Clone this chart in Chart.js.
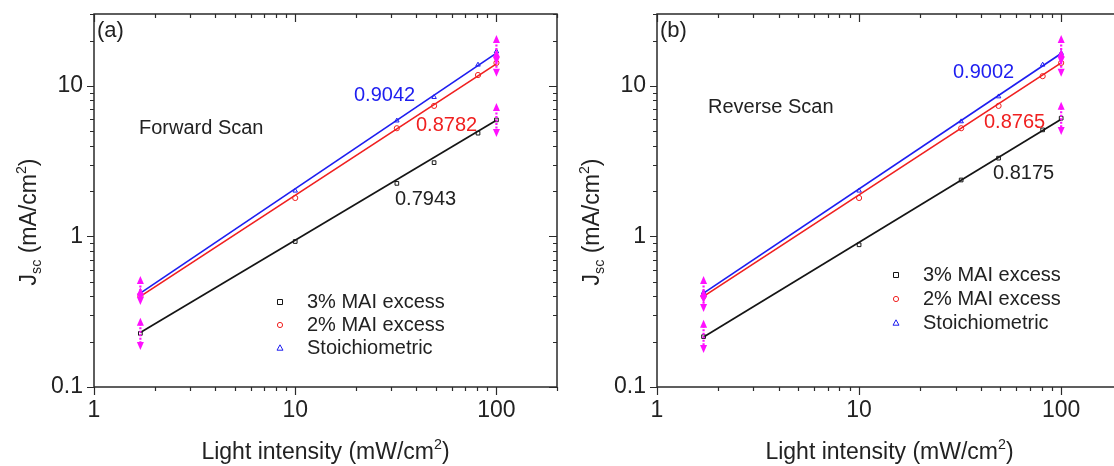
<!DOCTYPE html>
<html><head><meta charset="utf-8">
<script src="https://cdn.jsdelivr.net/npm/chart.js@4/dist/chart.umd.min.js"></script>
<style>
html,body{margin:0;padding:0;background:#fff;overflow:hidden;width:1114px;height:466px;}
#cA{position:absolute;left:0;top:0;}
#cB{position:absolute;left:557px;top:0;}
</style></head><body>
<canvas id="cA" width="562" height="466"></canvas>
<canvas id="cB" width="600" height="466"></canvas>
<script>
// ---- data ----
const intensity = [1.7, 10, 32, 49, 81, 100];
const seriesNames = ['3% MAI excess', '2% MAI excess', 'Stoichiometric'];
const xTickValues = [1, 10, 100];
const yTickValues = [0.1, 1, 10];

// forward scan (a)
const fwd3 = [0.227, 0.925, 2.25, 3.09, 4.85, 5.94];
const fwd2 = [0.40, 1.80, 5.23, 7.36, 11.8, 14.2];
const fwdS = [0.42, 2.01, 5.87, 8.41, 13.8, 16.9];
// reverse scan (b)
const rev3 = [0.216, 0.88, 2.37, 3.31, 5.10, 6.10];
const rev2 = [0.40, 1.80, 5.23, 7.36, 11.6, 14.2];
const revS = [0.424, 2.01, 5.80, 8.49, 13.8, 16.5];

// fitted lines (end points)
const fitX = [1.7, 100];
const fwdFit3 = [0.23, 5.9];
const fwdFit2 = [0.40, 14.0];
const fwdFitS = [0.42, 16.5];
const revFit3 = [0.215, 6.0];
const revFit2 = [0.40, 14.2];
const revFitS = [0.42, 16.4];

// slopes
const fwdSlopes = ['0.7943', '0.8782', '0.9042'];
const revSlopes = ['0.8175', '0.8765', '0.9002'];

// error bars [low, high] at errX
const errX = [1.7, 100];
const fwdErr3 = [[0.176, 0.288], [4.58, 7.7]];
const fwdErr2 = [[0.35, 0.46], [11.5, 17.5]];
const fwdErrS = [[0.37, 0.547], [13.8, 21.8]];
const revErr3 = [[0.168, 0.28], [4.72, 7.83]];
const revErr2 = [[0.315, 0.45], [11.5, 17.5]];
const revErrS = [[0.36, 0.545], [13.8, 21.8]];

// ---- styling ----
const FONT = 'Arial, "Liberation Sans", sans-serif';
const BLACK = '#151515';
const RED = '#f02020';
const BLUE = '#1e1ef0';
const MAG = '#ff10ff';
const TXT = '#222';

function richWidth(ctx, segs, size) {
  let w = 0;
  for (const s of segs) {
    const fs = (s.sub || s.sup) ? size * 0.62 : size;
    ctx.font = fs + 'px ' + FONT;
    w += ctx.measureText(s.t).width;
  }
  return w;
}
function drawRich(ctx, segs, x, y, size) { // x = left, y = baseline
  let cx = x;
  for (const s of segs) {
    const fs = (s.sub || s.sup) ? size * 0.62 : size;
    ctx.font = fs + 'px ' + FONT;
    const dy = s.sub ? size * 0.22 : (s.sup ? -size * 0.42 : 0);
    ctx.fillText(s.t, cx, y + dy);
    cx += ctx.measureText(s.t).width;
  }
}

function marker(ctx, style, x, y, color) {
  ctx.save();
  ctx.strokeStyle = color; ctx.lineWidth = 1;
  ctx.beginPath();
  if (style === 'rect') ctx.rect(x - 2.5, y - 2.5, 5, 5);
  else if (style === 'circle') ctx.arc(x, y, 2.6, 0, Math.PI * 2);
  else { ctx.moveTo(x, y - 3.2); ctx.lineTo(x + 3, y + 2.2); ctx.lineTo(x - 3, y + 2.2); ctx.closePath(); }
  ctx.stroke();
  ctx.restore();
}

function makePanel(id, d) {
  const el = document.getElementById(id);
  const styles = ['rect', 'circle', 'triangle'];
  const colors = [BLACK, RED, BLUE];

  const panelPlugin = {
    id: 'panel_' + id,
    afterDatasetsDraw(chart) {
      const ctx = chart.ctx, xs = chart.scales.x, ys = chart.scales.y;
      // error bars
      ctx.save();
      ctx.strokeStyle = MAG; ctx.fillStyle = MAG; ctx.lineWidth = 2.2;
      for (const err of d.err) {
        err.forEach((lh, i) => {
          const px = xs.getPixelForValue(errX[i]);
          const y1 = ys.getPixelForValue(lh[1]), y0 = ys.getPixelForValue(lh[0]);
          ctx.setLineDash([2, 1.5]);
          ctx.beginPath(); ctx.moveTo(px, y1 + 6); ctx.lineTo(px, y0 - 6); ctx.stroke();
          ctx.setLineDash([]);
          ctx.beginPath(); ctx.moveTo(px, y1); ctx.lineTo(px + 3.5, y1 + 8); ctx.lineTo(px - 3.5, y1 + 8); ctx.closePath(); ctx.fill();
          ctx.beginPath(); ctx.moveTo(px, y0); ctx.lineTo(px + 3.5, y0 - 8); ctx.lineTo(px - 3.5, y0 - 8); ctx.closePath(); ctx.fill();
        });
      }
      ctx.restore();
    },
    afterDraw(chart) {
      const ctx = chart.ctx, a = chart.chartArea, xs = chart.scales.x, ys = chart.scales.y;
      ctx.save();
      // frame
      ctx.strokeStyle = '#2a2a2a'; ctx.lineWidth = 1.5;
      ctx.strokeRect(a.left, a.top, a.right - a.left, a.bottom - a.top);
      // ticks
      ctx.lineWidth = 1.2;
      const xMin = xs.min, xMax = xs.max, yMin = ys.min, yMax = ys.max;
      ctx.beginPath();
      for (let dec = 1; dec <= 100; dec *= 10) {
        for (let k = 1; k <= 9; k++) {
          const v = dec * k;
          if (v < xMin || v > xMax) continue;
          const p = Math.round(xs.getPixelForValue(v)) + 0.5;
          const major = k === 1;
          ctx.moveTo(p, a.bottom); ctx.lineTo(p, a.bottom + (major ? 8 : 4));
          ctx.moveTo(p, a.top); ctx.lineTo(p, a.top + (major ? 8 : 4));
        }
      }
      for (let dec = 0.1; dec <= 10.001; dec *= 10) {
        for (let k = 1; k <= 9; k++) {
          const v = dec * k;
          if (v < yMin * 0.999 || v > yMax * 1.001) continue;
          const p = Math.round(ys.getPixelForValue(v)) + 0.5;
          const major = k === 1;
          ctx.moveTo(a.left, p); ctx.lineTo(a.left - (major ? 7 : 4), p);
          ctx.moveTo(a.right, p); ctx.lineTo(a.right - (major ? 8 : 4), p);
        }
      }
      ctx.stroke();

      // panel letter and scan label
      ctx.fillStyle = TXT; ctx.textBaseline = 'middle'; ctx.textAlign = 'left';
      ctx.font = '22px ' + FONT;
      ctx.fillText(d.letter, a.left + 3, a.top + 17);
      ctx.font = '20px ' + FONT;
      ctx.fillText(d.scan, a.left + d.scanPos[0], d.scanPos[1]);
      // slope labels
      d.slopes.forEach((s, i) => {
        ctx.fillStyle = i === 0 ? TXT : colors[i];
        ctx.fillText(s, a.left + d.slopePos[i][0], d.slopePos[i][1]);
      });
      // legend
      seriesNames.forEach((n, i) => {
        const y = d.legendY + i * d.legendGap;
        marker(ctx, styles[i], a.left + d.legendX, y, colors[i]);
        ctx.fillStyle = TXT; ctx.font = '20px ' + FONT;
        ctx.fillText(n, a.left + d.legendX + 27, y);
      });
      // axis titles
      ctx.fillStyle = TXT; ctx.textBaseline = 'alphabetic'; ctx.textAlign = 'left';
      const xt = [{t: 'Light intensity (mW/cm'}, {t: '2', sup: true}, {t: ')'}];
      const xw = richWidth(ctx, xt, 23);
      drawRich(ctx, xt, (a.left + a.right) / 2 - xw / 2, 459, 23);
      const yt = [{t: 'J'}, {t: 'sc', sub: true}, {t: ' (mA/cm'}, {t: '2', sup: true}, {t: ')'}];
      const yw = richWidth(ctx, yt, 23);
      ctx.translate(a.left - 58, 222);
      ctx.rotate(-Math.PI / 2);
      drawRich(ctx, yt, -yw / 2, 0, 23);
      ctx.restore();
    }
  };

  const fitSets = [
    {data: d.fitS, color: BLUE}, {data: d.fit2, color: RED}, {data: d.fit3, color: BLACK}
  ].map(f => ({
    type: 'line', data: fitX.map((x, i) => ({x, y: f.data[i]})),
    borderColor: f.color, borderWidth: 1.7, pointRadius: 0, fill: false, tension: 0
  }));
  const ptSets = [
    {data: d.s, color: BLUE, st: 'triangle'}, {data: d.s2, color: RED, st: 'circle'}, {data: d.s3, color: BLACK, st: 'rect'}
  ].map(p => ({
    type: 'scatter', data: intensity.map((x, i) => ({x, y: p.data[i]})),
    showLine: false, pointStyle: p.st, pointRadius: 2.6, borderColor: p.color,
    backgroundColor: 'rgba(255,255,255,0)', pointBorderWidth: 1
  }));

  const tickFont = {family: FONT, size: 23};
  return new Chart(el, {
    type: 'scatter',
    data: {datasets: [...fitSets, ...ptSets]},
    options: {
      responsive: false, animation: false, devicePixelRatio: 1,
      layout: {padding: {left: 0, right: d.padRight, top: 0, bottom: 0}},
      plugins: {legend: {display: false}, tooltip: {enabled: false}},
      scales: {
        x: {
          type: 'logarithmic', min: 1, max: 200, position: 'bottom',
          grid: {display: false, drawTicks: false}, border: {display: false},
          afterBuildTicks: s => { s.ticks = xTickValues.map(v => ({value: v, major: true})); },
          afterFit: s => { s.height = 79; },
          ticks: {color: TXT, font: tickFont, padding: 10, autoSkip: false, maxRotation: 0,
                  callback: v => String(v)}
        },
        y: {
          type: 'logarithmic', min: 0.1, max: 30, position: 'left',
          grid: {display: false, drawTicks: false}, border: {display: false},
          afterBuildTicks: s => { s.ticks = yTickValues.map(v => ({value: v, major: true})); },
          afterFit: s => { s.width = d.yWidth; s.paddingTop = 14; s.paddingBottom = 0; },
          ticks: {color: TXT, font: tickFont, padding: 11, autoSkip: false,
                  callback: v => String(v)}
        }
      }
    },
    plugins: [panelPlugin]
  });
}

makePanel('cA', {
  s3: fwd3, s2: fwd2, s: fwdS, fit3: fwdFit3, fit2: fwdFit2, fitS: fwdFitS,
  err: [fwdErr3, fwdErr2, fwdErrS], slopes: fwdSlopes,
  letter: '(a)', scan: 'Forward Scan', scanPos: [45, 128],
  slopePos: [[301, 199], [322, 125], [260, 95]],
  legendX: 186, legendY: 302, legendGap: 23,
  yWidth: 94, padRight: 4
});
makePanel('cB', {
  s3: rev3, s2: rev2, s: revS, fit3: revFit3, fit2: revFit2, fitS: revFitS,
  err: [revErr3, revErr2, revErrS], slopes: revSlopes,
  letter: '(b)', scan: 'Reverse Scan', scanPos: [51, 107],
  slopePos: [[336, 173], [327, 122], [296, 72]],
  legendX: 239, legendY: 275, legendGap: 24,
  yWidth: 100, padRight: 35
});
</script>
</body></html>
